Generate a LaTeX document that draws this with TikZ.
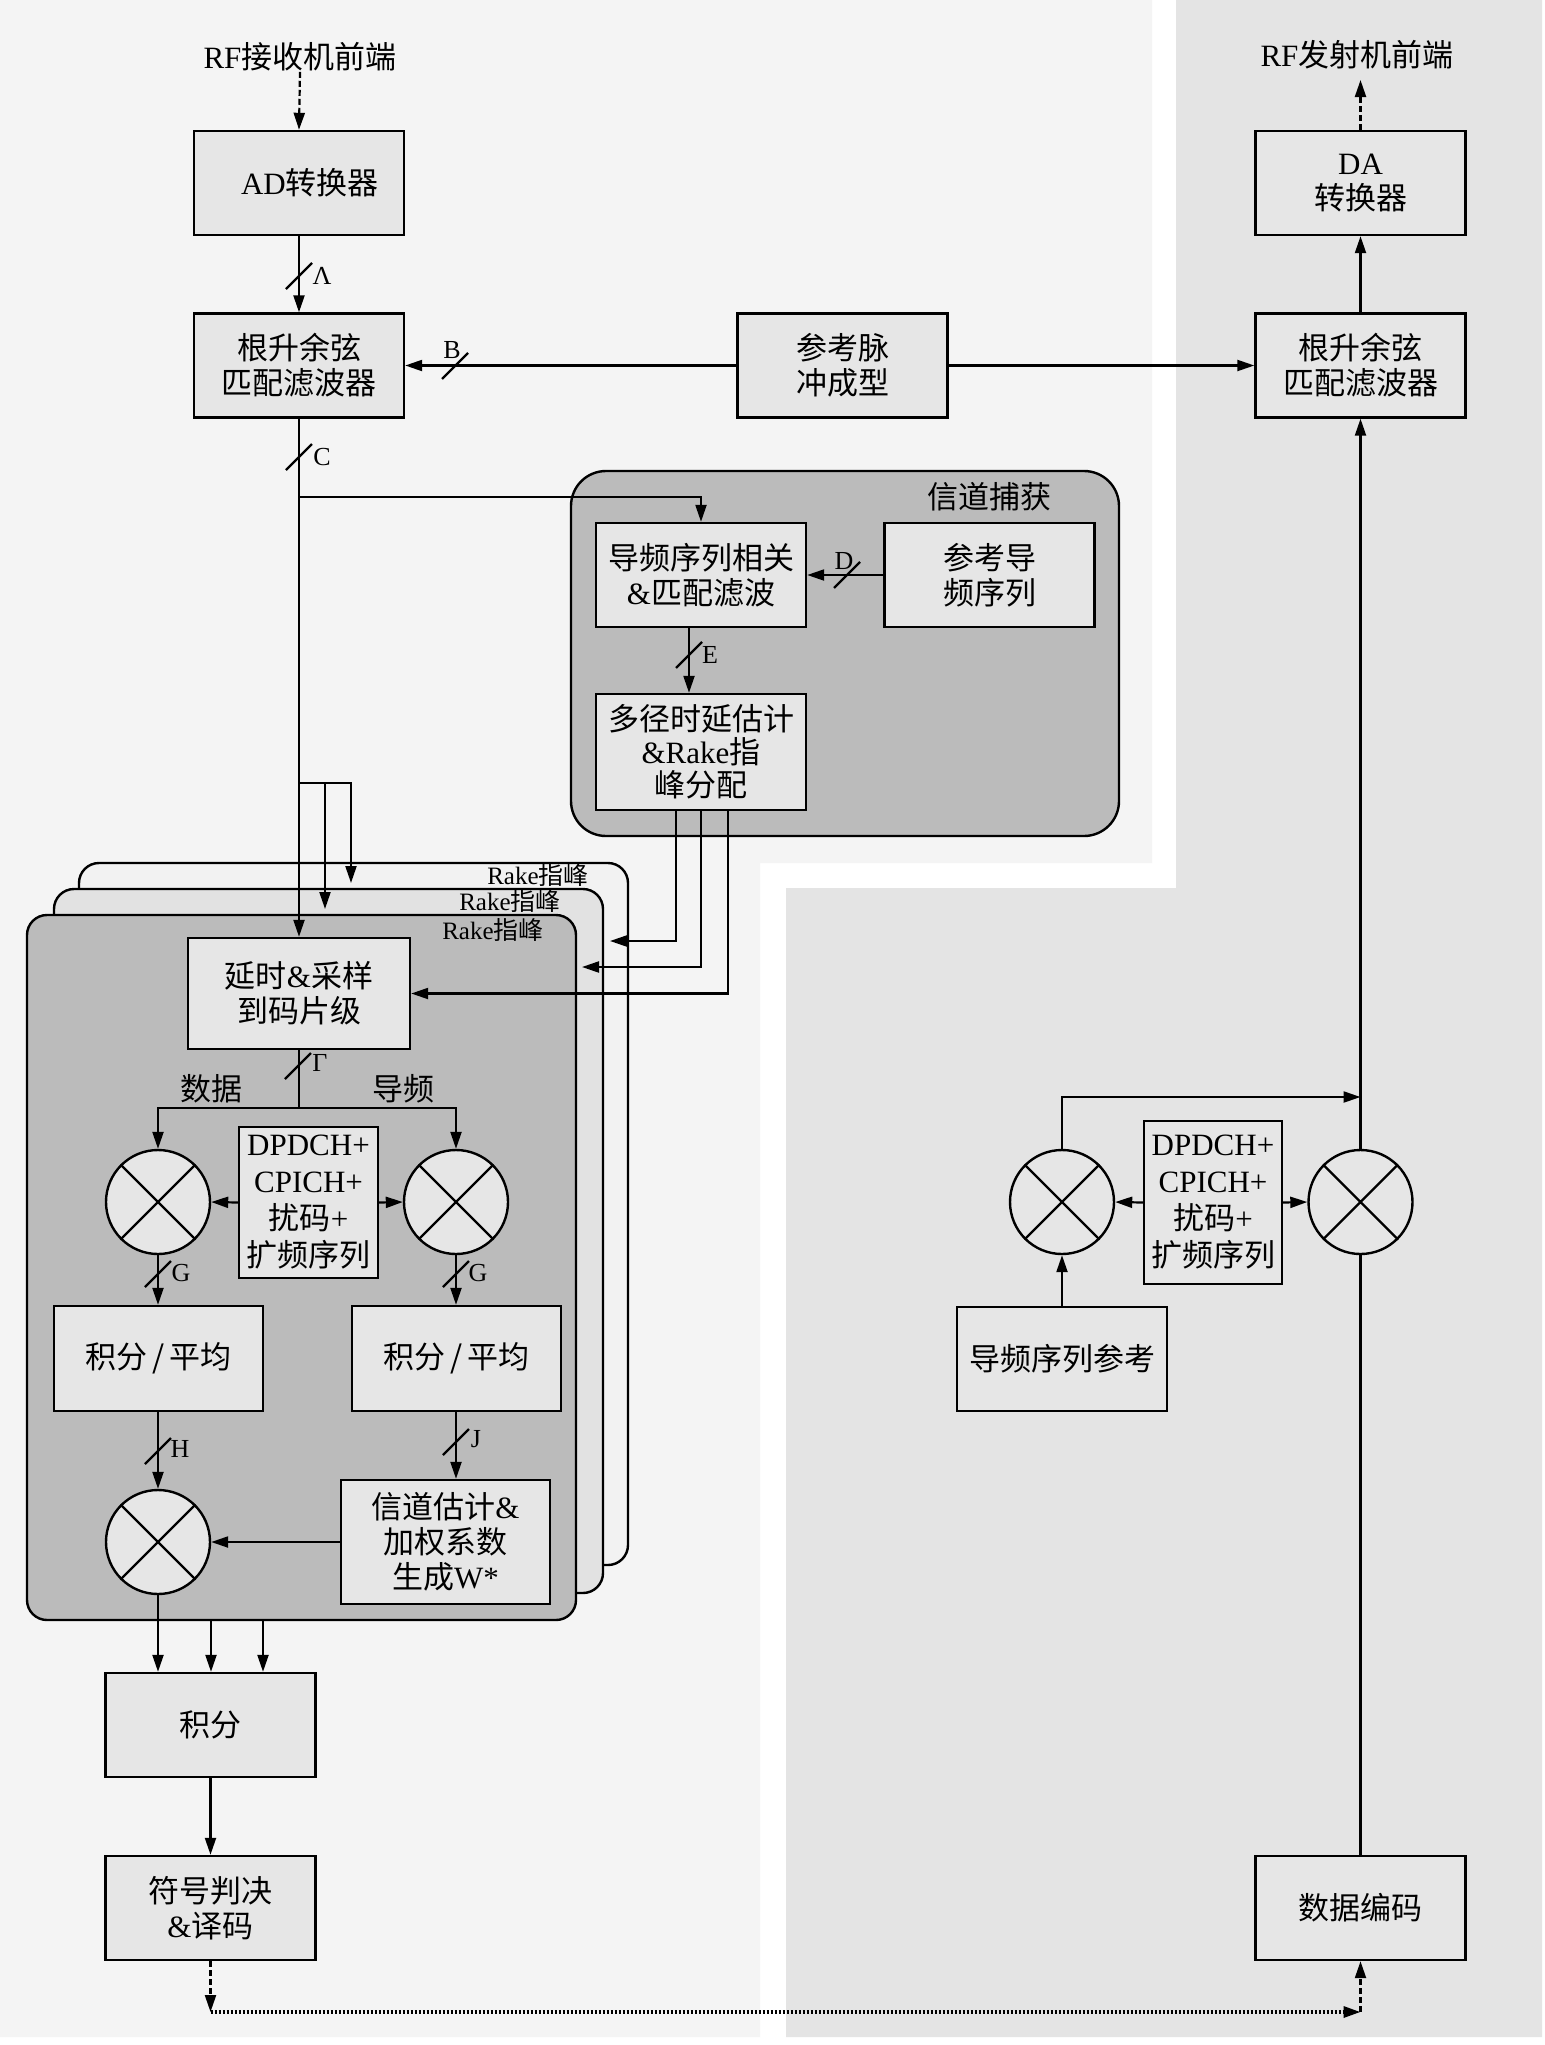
\documentclass[tikz,border=0pt]{standalone}
\usepackage{fontspec}
\setmainfont{Liberation Serif}
\newfontfamily\cjk{Noto Sans CJK SC}
\newcommand\zh[1]{{\cjk #1}}
\newcommand\mainsz{\fontsize{15.5pt}{17.5pt}\selectfont}
\usetikzlibrary{arrows.meta}
\definecolor{bgL}{HTML}{F4F4F4}
\definecolor{bgD}{HTML}{E4E4E4}
\definecolor{boxF}{HTML}{E6E6E6}
\definecolor{rakeF}{HTML}{BBBBBB}
\definecolor{rakeM}{HTML}{E2E2E2}
\definecolor{rakeB}{HTML}{F2F2F2}
\tikzset{
  box/.style={draw, line width=1.2pt, fill=boxF, inner sep=0pt, align=center, font=\mainsz, minimum width=105pt, minimum height=52pt},
  txt/.style={inner sep=0pt, align=center, font=\mainsz},
  mult/.style={circle, draw, line width=1.2pt, fill=boxF, minimum size=52pt, inner sep=0pt},
  arr/.style={line width=1.1pt, -{Triangle[length=8.5pt,width=5.5pt]}},
  plain/.style={line width=1.1pt},
  dsh/.style={dash pattern=on 3pt off 1.5pt},
  dotl/.style={line width=1.6pt, dash pattern=on 1.2pt off 0.8pt},
  rk/.style={draw, line width=1.2pt, rounded corners=10pt},
  rkl/.style={inner sep=0pt, font=\fontsize{12.5pt}{14pt}\selectfont},
  sl/.style={inner sep=0pt, font=\fontsize{13pt}{14pt}\selectfont},
  slash/.pic={\draw[line width=1.1pt] (-13,13) -- (13,-13);}
}
\begin{document}
\begin{tikzpicture}[x=0.5pt,y=-0.5pt]
\useasboundingbox (0,0) rectangle (1545,2045);
\fill[white] (0,0) rectangle (1545,2045);
\fill[bgL] (0,0) -- (1152,0) -- (1152,863) -- (760,863) -- (760,2037) -- (0,2037) -- cycle;
\fill[bgD] (1176,0) -- (1542,0) -- (1542,2037) -- (786,2037) -- (786,888) -- (1176,888) -- cycle;

% receiver top
\node[txt] (rfrx) at (300,57) {RF\zh{接收机前端}};
\node[box] (ad) at (299,183) {\hspace*{11pt}AD\zh{转换器}};
\node[box] (rrcR) at (299,365.5) {\zh{根升余弦}\\\zh{匹配滤波器}};
\node[box] (ps) at (842.5,365.5) {\zh{参考脉}\\\zh{冲成型}};
\node[box] (rrcT) at (1360.5,365.5) {\zh{根升余弦}\\\zh{匹配滤波器}};
\node[box] (da) at (1360.5,183) {DA\\\zh{转换器}};
\node[txt] (rftx) at (1357,55) {RF\zh{发射机前端}};
\coordinate (tipT) at (1360.5,80);

% channel capture
\draw[line width=1.2pt, fill=rakeF, rounded corners=17.5pt] (571,471) rectangle (1119,836);
\node[txt] (captl) at (989,497) {\zh{信道捕获}};
\node[box] (pc) at (701,575) {\zh{导频序列相关}\\\&\zh{匹配滤波}};
\node[box] (rps) at (989.5,575) {\zh{参考导}\\\zh{频序列}};
\node[box, minimum height=58pt, font=\fontsize{15.5pt}{16.5pt}\selectfont] (mp) at (701,752) {\zh{多径时延估计}\\\&Rake\zh{指}\\\zh{峰分配}};

% rake fingers
\draw[rk, fill=rakeB] (79,863) rectangle (628,1565);
\draw[rk, fill=rakeM] (54,889) rectangle (603,1593);
\draw[rk, fill=rakeF] (27,915) rectangle (576,1620);
\node[rkl] (rl1) at (538,875) {Rake\zh{指峰}};
\node[rkl] (rl2) at (510,901) {Rake\zh{指峰}};
\node[rkl] (rl3) at (493,930) {Rake\zh{指峰}};

\node[box, minimum width=111pt, minimum height=55.5pt] (dl) at (299,993.5) {\zh{延时}\&\zh{采样}\\\zh{到码片级}};
\node[txt] (lbd) at (211,1089) {\zh{数据}};
\node[txt] (lbp) at (403,1089) {\zh{导频}};
\node[mult] (mL) at (158,1202) {};
\node[mult] (mR) at (456,1202) {};
\node[mult] (mB) at (158,1542) {};
\node[box, minimum width=69.5pt, minimum height=75.5pt, font=\fontsize{15.5pt}{18.5pt}\selectfont] (dp) at (308.5,1202.5) {DPDCH+\\CPICH+\\\zh{扰码}+\\\zh{扩频序列}};
\node[box, minimum width=104.5pt, minimum height=52.5pt] (iL) at (158.5,1358.5) {\zh{积分}\,\zh{/}\,\zh{平均}};
\node[box, minimum width=104.5pt, minimum height=52.5pt] (iR) at (456.5,1358.5) {\zh{积分}\,\zh{/}\,\zh{平均}};
\node[box, minimum width=104.5pt, minimum height=62pt] (ce) at (445.5,1542) {\zh{信道估计}\&\\\zh{加权系数}\\\zh{生成}W*};
\node[box] (jf) at (210.5,1725) {\zh{积分}};
\node[box] (sd) at (210.5,1908) {\zh{符号判决}\\\&\zh{译码}};

% transmitter
\node[box] (de) at (1360.5,1908) {\zh{数据编码}};
\node[mult] (tL) at (1062,1202) {};
\node[mult] (tR) at (1360.5,1202) {};
\node[box, minimum width=69pt, minimum height=81.5pt, font=\fontsize{15.5pt}{18.5pt}\selectfont] (tdp) at (1213,1202.5) {DPDCH+\\CPICH+\\\zh{扰码}+\\\zh{扩频序列}};
\node[box] (psr) at (1062,1359) {\zh{导频序列参考}};

\foreach \m in {mL,mR,mB,tL,tR}
  \draw[line width=1.2pt] (\m.45) -- (\m.225) (\m.135) -- (\m.315);

% receiver connectors
\draw[arr, dsh] (rfrx.south) -- (ad.north);
\draw[arr] (ad.south) -- (rrcR.north);
\pic at (299,276) {slash}; \node[sl] (lA) at (322,276) {Λ};
\draw[arr] (ps.west) -- (rrcR.east);
\pic at (455,366) {slash}; \node[sl] (lB) at (452,350) {B};
\draw[arr] (ps.east) -- (rrcT.west);
\draw[arr] (rrcT.north) -- (da.south);
\draw[arr, dsh] (da.north) -- (tipT);
\draw[arr] (rrcR.south) -- (dl.north);
\pic at (299,457) {slash}; \node[sl] (lC) at (322,457) {C};
\coordinate (c1) at (299,497);
\draw[arr] (c1) -| (pc.north);
\coordinate (c2) at (299,783);
\coordinate (c3) at (325,783);
\coordinate (t3) at (351,883);
\coordinate (t2) at (325,909);
\draw[arr] (c2) -| (t3);
\draw[arr] (c3) -- (t2);
\draw[arr] (rps.west) -- (pc.east);
\pic at (847,575) {slash}; \node[sl] (lD) at (844,561) {D};
\draw[arr] ([xshift=-6pt]pc.south) -- ([xshift=-6pt]mp.north);
\pic at (689,655) {slash}; \node[sl] (lE) at (710,655) {E};
\coordinate (r1) at (610,941);
\coordinate (r2) at (582,967);
\draw[arr] ([xshift=-12.5pt]mp.south) |- (r1);
\draw[arr] (mp.south) |- (r2);
\draw[arr] ([xshift=13.5pt]mp.south) |- (dl.east);
\coordinate (s0) at (299,1108);
\draw[plain] (dl.south) -- (s0);
\draw[arr] (s0) -| (mL.north);
\draw[arr] (s0) -| (mR.north);
\pic at (298,1066) {slash}; \node[sl] (lF) at (320,1063) {Γ};
\draw[arr] (dp.west) -- (mL.east);
\draw[arr] (dp.east) -- (mR.west);
\draw[arr] (mL.south) -- (mL.south |- iL.north);
\pic at (158,1274) {slash}; \node[sl] (lG1) at (181,1273) {G};
\draw[arr] (mR.south) -- (mR.south |- iR.north);
\pic at (456,1274) {slash}; \node[sl] (lG2) at (478,1273) {G};
\draw[arr] (mB.north |- iL.south) -- (mB.north);
\pic at (158,1451) {slash}; \node[sl] (lH) at (180,1449) {H};
\draw[arr] (mR.south |- iR.south) -- (mR.south |- ce.north);
\pic at (456,1442) {slash}; \node[sl] (lJ) at (476,1439) {J};
\draw[arr] (ce.west) -- (mB.east);
\draw[arr] (mB.south) -- (mB.south |- jf.north);
\coordinate (q2) at (211,1620);
\coordinate (q3) at (263,1620);
\draw[arr] (q2) -- (q2 |- jf.north);
\draw[arr] (q3) -- (q3 |- jf.north);
\draw[arr] (jf.south) -- (sd.north);
\coordinate (b1) at (210.5,2012);
\coordinate (b2) at (1360.5,2012);
\draw[arr, dsh] (sd.south) -- (b1);
\draw[arr, dotl] (b1) -- (b2);
\draw[arr, dsh] (b2) -- (de.south);

% transmitter connectors
\draw[plain] (de.north) -- (tR.south);
\draw[arr] (tR.north) -- (rrcT.south);
\coordinate (j1) at (1360.5,1097);
\draw[arr] (tL.north) |- (j1);
\draw[arr] (tdp.west) -- (tL.east);
\draw[arr] (tdp.east) -- (tR.west);
\draw[arr] (psr.north) -- (tL.south);
\end{tikzpicture}
\end{document}
